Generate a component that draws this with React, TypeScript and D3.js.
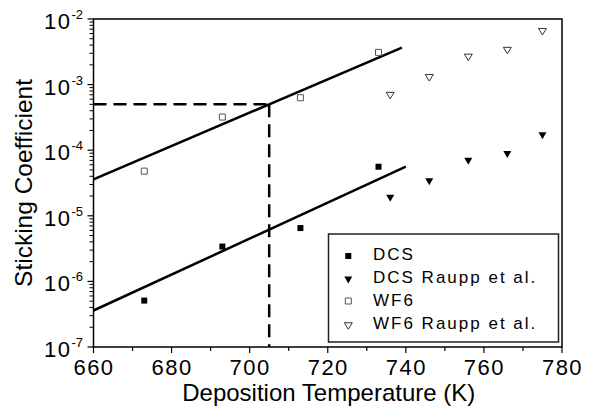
import React from "react";
import * as d3 from "d3";

const xTicks = [660, 680, 700, 720, 740, 760, 780];
const xMinorTicks = [670, 690, 710, 730, 750, 770];
const yExponents = [-2, -3, -4, -5, -6, -7];

const dcsT = [673, 693, 713, 733];
const dcsS = [5.1e-7, 3.4e-6, 6.5e-6, 5.6e-5];
const dcsRauppT = [736, 746, 756, 766, 775];
const dcsRauppS = [1.85e-5, 3.3e-5, 6.8e-5, 8.6e-5, 1.66e-4];
const wf6T = [673, 693, 713, 733];
const wf6S = [4.8e-5, 3.2e-4, 6.3e-4, 3.1e-3];
const wf6RauppT = [736, 746, 756, 766, 775];
const wf6RauppS = [6.8e-4, 1.27e-3, 2.6e-3, 3.3e-3, 6.4e-3];

const fitWF6 = { t: [660, 739], s: [3.6e-5, 3.65e-3] };
const fitDCS = { t: [660, 740], s: [3.6e-7, 5.6e-5] };
const guideT = 705;
const guideS = 5e-4;

const legendLabels = ["DCS", "DCS Raupp et al.", "WF6", "WF6 Raupp et al."];

const W = 589, H = 406;
const L = 93.5, R = 562, T = 19, B = 347;

export default function App() {
  const x = d3.scaleLinear().domain([660, 780]).range([L, R]);
  const y = d3.scaleLog().domain([1e-7, 1e-2]).range([B, T]);
  const line = d3.line<[number, number]>().x(d => x(d[0])).y(d => y(d[1]));

  const minorY: number[] = [];
  for (let e = -7; e < -2; e++) {
    for (let m = 2; m <= 9; m++) minorY.push(m * Math.pow(10, e));
  }

  const font = "'Liberation Sans', Arial, Helvetica, sans-serif";

  const sq = (cx: number, cy: number, s: number) =>
    `M${cx - s / 2},${cy - s / 2}h${s}v${s}h${-s}Z`;
  const tri = (cx: number, cy: number, w: number, h: number) =>
    `M${cx - w / 2},${cy - h / 2}L${cx + w / 2},${cy - h / 2}L${cx},${cy + h / 2}Z`;

  const legendRows = [
    { label: legendLabels[0], my: 256, ty: 260 },
    { label: legendLabels[1], my: 280, ty: 283 },
    { label: legendLabels[2], my: 301, ty: 306 },
    { label: legendLabels[3], my: 326, ty: 328.5 },
  ];

  return (
    <svg width={W} height={H} style={{ position: "absolute", left: 0, top: 0, background: "#fff" }}
      fontFamily={font}>
      <rect x={0} y={0} width={W} height={H} fill="#fff" />
      {/* frame */}
      <rect x={L} y={T} width={R - L} height={B - T} fill="none" stroke="#000" strokeWidth={1.5} />
      {/* x ticks */}
      {xTicks.map(t => (
        <g key={"xt" + t}>
          <line x1={x(t)} x2={x(t)} y1={B} y2={B + 6} stroke="#000" strokeWidth={1.2} />
          <text x={x(t) + 0.5} y={375} textAnchor="middle" fontSize={22} letterSpacing={1.5}>{t}</text>
        </g>
      ))}
      {xMinorTicks.map(t => (
        <line key={"xm" + t} x1={x(t)} x2={x(t)} y1={B} y2={B + 4} stroke="#000" strokeWidth={1.2} />
      ))}
      {/* y ticks */}
      {yExponents.map(e => (
        <g key={"yt" + e}>
          <line x1={L - 6} x2={L} y1={y(Math.pow(10, e))} y2={y(Math.pow(10, e))} stroke="#000" strokeWidth={1.2} />
          <text x={83} y={y(Math.pow(10, e)) + 10} textAnchor="end" fontSize={22} letterSpacing={1.5}>
            10<tspan fontSize={13} dy={-10} letterSpacing={0}>{"-" + Math.abs(e)}</tspan>
          </text>
        </g>
      ))}
      {minorY.map((v, i) => (
        <line key={"ym" + i} x1={L - 4} x2={L} y1={y(v)} y2={y(v)} stroke="#000" strokeWidth={1} />
      ))}
      {/* axis titles */}
      <text x={(L + R) / 2 + 1} y={401} textAnchor="middle" fontSize={24}>Deposition Temperature (K)</text>
      <text transform={`translate(32,${(T + B) / 2}) rotate(-90)`} textAnchor="middle" fontSize={24.5}>Sticking Coefficient</text>

      {/* fit lines */}
      <path d={line(fitWF6.t.map((t, i) => [t, fitWF6.s[i]]) as [number, number][]) || ""} stroke="#000" strokeWidth={2.5} fill="none" />
      <path d={line(fitDCS.t.map((t, i) => [t, fitDCS.s[i]]) as [number, number][]) || ""} stroke="#000" strokeWidth={2.5} fill="none" />
      {/* guide dashed lines */}
      <path d={line([[660, guideS], [guideT, guideS]]) || ""} stroke="#000" strokeWidth={2.5} fill="none" strokeDasharray="13,7" />
      <path d={line([[guideT, guideS], [guideT, 1e-7]]) || ""} stroke="#000" strokeWidth={2.5} fill="none" strokeDasharray="13,7" />

      {/* markers */}
      {dcsT.map((t, i) => (
        <path key={"d" + i} d={sq(x(t), y(dcsS[i]), 6)} fill="#000" />
      ))}
      {dcsRauppT.map((t, i) => (
        <path key={"dr" + i} d={tri(x(t), y(dcsRauppS[i]), 8, 7)} fill="#000" />
      ))}
      {wf6T.map((t, i) => (
        <path key={"w" + i} d={sq(x(t), y(wf6S[i]), 6)} fill="#fff" stroke="#555" strokeWidth={1} />
      ))}
      {wf6RauppT.map((t, i) => (
        <path key={"wr" + i} d={tri(x(t), y(wf6RauppS[i]), 8, 6.5)} fill="#fff" stroke="#333" strokeWidth={1} />
      ))}

      {/* legend */}
      <rect x={328.5} y={234} width={230} height={108} fill="#fff" stroke="#222" strokeWidth={1.5} />
      <path d={sq(348.3, legendRows[0].my, 6)} fill="#000" />
      <path d={tri(348.3, legendRows[1].my, 8, 7)} fill="#000" />
      <path d={sq(348.3, legendRows[2].my, 6)} fill="#fff" stroke="#555" strokeWidth={1} />
      <path d={tri(348.3, legendRows[3].my, 8, 6.5)} fill="#fff" stroke="#333" strokeWidth={1} />
      {legendRows.map((r, i) => (
        <text key={"lt" + i} x={373} y={r.ty} fontSize={17} letterSpacing={2}>{r.label}</text>
      ))}
    </svg>
  );
}
